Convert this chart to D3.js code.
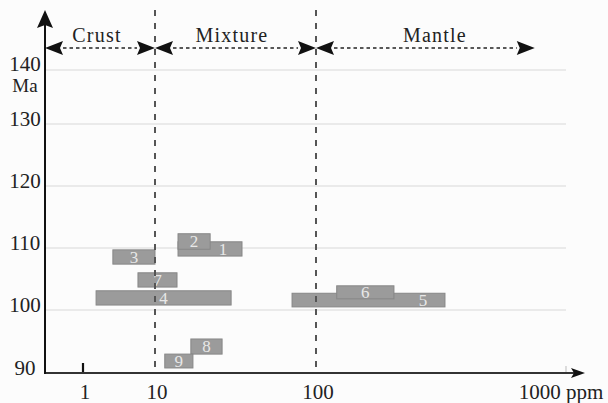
<!DOCTYPE html>
<html>
<head>
<meta charset="utf-8">
<script src="https://cdn.jsdelivr.net/npm/d3@7"></script>
<style>
  body { margin: 0; background: #fff; }
  svg { display: block; font-family: "Liberation Serif", "Times New Roman", serif; }
</style>
</head>
<body>
<div id="chart"></div>
<script>
// NOTE: data (age in Ma, concentration in ppm)
const sampleIds = ['1', '2', '3', '4', '5', '6', '7', '8', '9'];
const ppmMin = [13.9, 13.9, 2.6, 1.52, 71, 121, 5.8, 16.7, 11.5];
const ppmMax = [34.7, 22.0, 10, 29.7, 328, 205, 13.7, 26.1, 17.2];
const ageMin = [108.7, 109.8, 107.4, 100.8, 100.5, 101.8, 103.7, 93.0, 90.8];
const ageMax = [111.0, 112.3, 109.7, 103.1, 102.7, 103.9, 106.0, 95.4, 93.0];
// where the number sits inside the bar (ppm), null = centred
const labelPpm = [26.4, null, null, null, 268, null, null, null, null];

const regionNames = ['Crust', 'Mixture', 'Mantle'];
const regionFrom = [0.3, 10, 100];
const regionTo = [10, 100, 750];
const boundaries = [10, 100];

// the drawing is not evenly spaced, so both scales are piecewise
const xTickValues = [0.3, 1, 10, 100, 1000];
const xTickLabels = ['', '1', '10', '100', '1000 ppm'];
const yTickValues = [90, 100, 110, 120, 130, 140];
const yTickLabels = ['90', '100', '110', '120', '130', '140'];
const yUnit = 'Ma';

// NOTE: layout
const width = 608, height = 403;
const margin = { top: 10, left: 45 };

const x = d3.scaleLog()
  .domain(xTickValues)
  .range([45, 83, 155, 316, 566]);
const y = d3.scaleLinear()
  .domain(yTickValues)
  .range([373, 310, 248, 186, 124, 70]);

const svg = d3.select('#chart').append('svg')
  .attr('width', width)
  .attr('height', height);

svg.append('rect')
  .attr('width', width).attr('height', height)
  .attr('fill', '#fcfcfc');

// grid lines
svg.append('g')
  .selectAll('line')
  .data(yTickValues.slice(1))
  .join('line')
  .attr('x1', x(0.3)).attr('x2', x(1000))
  .attr('y1', (d) => y(d)).attr('y2', (d) => y(d))
  .attr('stroke', '#d8d8d8')
  .attr('stroke-width', 1);

// y tick labels
svg.append('g')
  .selectAll('text')
  .data(yTickValues)
  .join('text')
  .attr('x', 25)
  .attr('y', (d) => y(d) + (d === 140 ? 1 : 2))
  .attr('text-anchor', 'middle')
  .attr('font-size', 21)
  .attr('fill', '#222')
  .text((d, i) => yTickLabels[i]);

svg.append('text')
  .attr('x', 25)
  .attr('y', y(140) + 22)
  .attr('text-anchor', 'middle')
  .attr('font-size', 19)
  .attr('fill', '#222')
  .text(yUnit);

// x tick labels
svg.append('g')
  .selectAll('text')
  .data(xTickValues)
  .join('text')
  .attr('x', (d, i) => x(d) + (i === xTickLabels.length - 1 ? -5 : 2))
  .attr('y', 399)
  .attr('text-anchor', 'middle')
  .attr('font-size', 21)
  .attr('fill', '#222')
  .text((d, i) => xTickLabels[i]);

// bars
const bars = sampleIds.map((id, i) => ({
  id, x0: ppmMin[i], x1: ppmMax[i], y0: ageMin[i], y1: ageMax[i], lx: labelPpm[i],
}));

svg.append('g')
  .selectAll('rect')
  .data(bars)
  .join('rect')
  .attr('x', (d) => x(d.x0))
  .attr('y', (d) => y(d.y1))
  .attr('width', (d) => x(d.x1) - x(d.x0))
  .attr('height', (d) => y(d.y0) - y(d.y1))
  .attr('fill', '#9b9b9b')
  .attr('stroke', '#878787')
  .attr('stroke-width', 1);

svg.append('g')
  .selectAll('text')
  .data(bars)
  .join('text')
  .attr('x', (d) => d.lx ? x(d.lx) : (x(d.x0) + x(d.x1)) / 2)
  .attr('y', (d) => (y(d.y0) + y(d.y1)) / 2)
  .attr('dy', '0.35em')
  .attr('text-anchor', 'middle')
  .attr('font-size', 17)
  .attr('fill', '#e8e8e8')
  .text((d) => d.id);

// boundaries between the fields
svg.append('g')
  .selectAll('line')
  .data(boundaries)
  .join('line')
  .attr('x1', (d) => x(d)).attr('x2', (d) => x(d))
  .attr('y1', margin.top).attr('y2', y(90))
  .attr('stroke', '#555')
  .attr('stroke-width', 2)
  .attr('stroke-dasharray', '6,7');

// region arrows
const arrowY = 48;
const headLen = 18, headHalf = 7;
const regions = regionNames.map((name, i) => ({ name, from: regionFrom[i], to: regionTo[i] }));
const rg = svg.append('g').selectAll('g').data(regions).join('g');

rg.append('line')
  .attr('x1', (d) => x(d.from) + headLen).attr('x2', (d) => x(d.to) - headLen)
  .attr('y1', arrowY).attr('y2', arrowY)
  .attr('stroke', '#222')
  .attr('stroke-width', 1.5)
  .attr('stroke-dasharray', '3.5,3');

rg.append('path')
  .attr('d', (d) => {
    const a = x(d.from), b = x(d.to);
    return `M${a},${arrowY}L${a + headLen},${arrowY - headHalf}L${a + headLen - 3},${arrowY}L${a + headLen},${arrowY + headHalf}Z` +
      `M${b},${arrowY}L${b - headLen},${arrowY - headHalf}L${b - headLen + 3},${arrowY}L${b - headLen},${arrowY + headHalf}Z`;
  })
  .attr('fill', '#111');

rg.append('text')
  .attr('x', (d, i) => [97, 232, 435][i])
  .attr('y', 42)
  .attr('text-anchor', 'middle')
  .attr('font-size', 20)
  .attr('letter-spacing', 1.2)
  .attr('fill', '#222')
  .text((d) => d.name);

// axes
svg.append('line')
  .attr('x1', x(1)).attr('x2', x(1))
  .attr('y1', y(90) - 10).attr('y2', y(90))
  .attr('stroke', '#111').attr('stroke-width', 2.2);
svg.append('line')
  .attr('x1', x(1000)).attr('x2', x(1000))
  .attr('y1', y(90) - 7).attr('y2', y(90))
  .attr('stroke', '#bbb').attr('stroke-width', 1);

svg.append('line')
  .attr('x1', margin.left).attr('x2', 578)
  .attr('y1', y(90)).attr('y2', y(90))
  .attr('stroke', '#333').attr('stroke-width', 2);
svg.append('path')
  .attr('d', `M585,${y(90)}L571,${y(90) - 5}L574,${y(90)}L571,${y(90) + 5}Z`)
  .attr('fill', '#111');

svg.append('line')
  .attr('x1', margin.left).attr('x2', margin.left)
  .attr('y1', y(90) + 1).attr('y2', margin.top + 14)
  .attr('stroke', '#111').attr('stroke-width', 2);
svg.append('path')
  .attr('d', `M${margin.left},${margin.top}L${margin.left - 8},${margin.top + 18}L${margin.left},${margin.top + 15}L${margin.left + 8},${margin.top + 18}Z`)
  .attr('fill', '#111');
</script>
</body>
</html>
